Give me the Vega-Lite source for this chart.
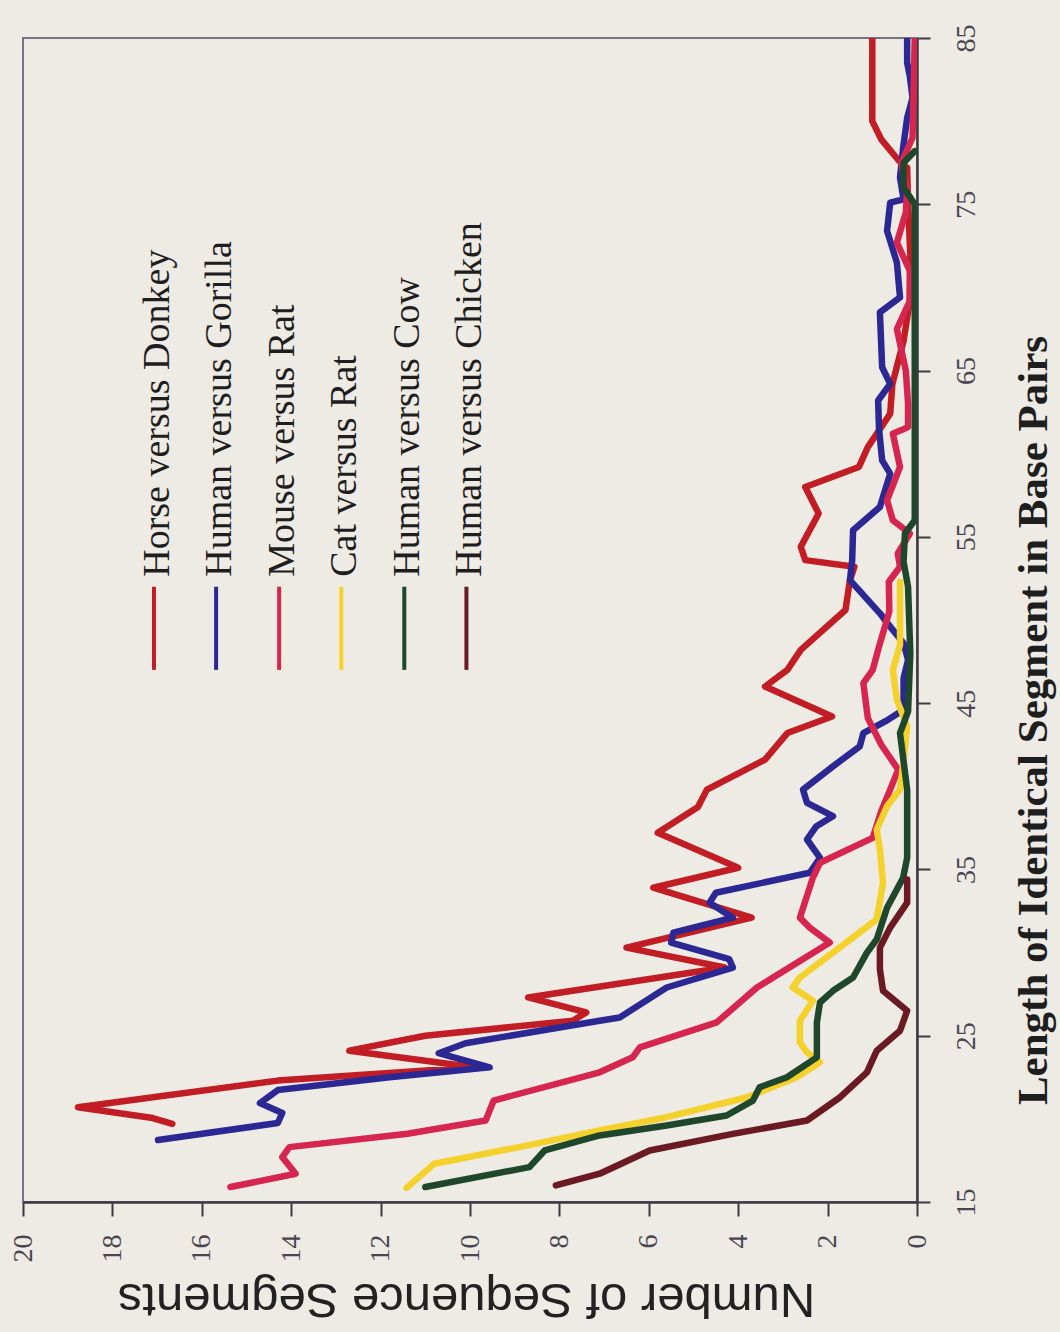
{
  "$schema": "https://vega.github.io/schema/vega-lite/v6.json",
  "width": 894,
  "height": 1164,
  "autosize": {"type": "none"},
  "padding": {"left": 23, "top": 38, "right": 143, "bottom": 130},
  "background": "#eeeae4",
  "config": {
    "view": {"stroke": "#7a7088", "strokeWidth": 2},
    "font": "Liberation Serif"
  },
  "data": {
    "values": [
      {"series": "Horse versus Donkey", "length": 19.7, "count": 16.66},
      {"series": "Horse versus Donkey", "length": 20.05, "count": 17.1},
      {"series": "Horse versus Donkey", "length": 20.7, "count": 18.77},
      {"series": "Horse versus Donkey", "length": 22.3, "count": 14.3},
      {"series": "Horse versus Donkey", "length": 23.1, "count": 9.9},
      {"series": "Horse versus Donkey", "length": 24.1, "count": 12.7},
      {"series": "Horse versus Donkey", "length": 25.0, "count": 11.0},
      {"series": "Horse versus Donkey", "length": 25.9, "count": 7.7},
      {"series": "Horse versus Donkey", "length": 26.4, "count": 7.4},
      {"series": "Horse versus Donkey", "length": 27.3, "count": 8.7},
      {"series": "Horse versus Donkey", "length": 29.1, "count": 4.3},
      {"series": "Horse versus Donkey", "length": 30.3, "count": 6.5},
      {"series": "Horse versus Donkey", "length": 32.1, "count": 3.7},
      {"series": "Horse versus Donkey", "length": 33.9, "count": 5.9},
      {"series": "Horse versus Donkey", "length": 35.1, "count": 4.0},
      {"series": "Horse versus Donkey", "length": 37.2, "count": 5.8},
      {"series": "Horse versus Donkey", "length": 38.75, "count": 4.9},
      {"series": "Horse versus Donkey", "length": 39.8, "count": 4.7},
      {"series": "Horse versus Donkey", "length": 41.6, "count": 3.4},
      {"series": "Horse versus Donkey", "length": 43.2, "count": 2.9},
      {"series": "Horse versus Donkey", "length": 44.2, "count": 1.9},
      {"series": "Horse versus Donkey", "length": 46.0, "count": 3.4},
      {"series": "Horse versus Donkey", "length": 47.0, "count": 2.9},
      {"series": "Horse versus Donkey", "length": 48.2, "count": 2.6},
      {"series": "Horse versus Donkey", "length": 50.6, "count": 1.6},
      {"series": "Horse versus Donkey", "length": 52.4, "count": 1.5},
      {"series": "Horse versus Donkey", "length": 53.2, "count": 1.4},
      {"series": "Horse versus Donkey", "length": 53.6, "count": 2.5},
      {"series": "Horse versus Donkey", "length": 54.4, "count": 2.6},
      {"series": "Horse versus Donkey", "length": 56.4, "count": 2.2},
      {"series": "Horse versus Donkey", "length": 58.0, "count": 2.5},
      {"series": "Horse versus Donkey", "length": 59.2, "count": 1.3},
      {"series": "Horse versus Donkey", "length": 60.4, "count": 1.1},
      {"series": "Horse versus Donkey", "length": 62.4, "count": 0.6},
      {"series": "Horse versus Donkey", "length": 64.2, "count": 0.55},
      {"series": "Horse versus Donkey", "length": 66.8, "count": 0.3},
      {"series": "Horse versus Donkey", "length": 69.2, "count": 0.16},
      {"series": "Horse versus Donkey", "length": 72.0, "count": 0.15},
      {"series": "Horse versus Donkey", "length": 75.0, "count": 0.2},
      {"series": "Horse versus Donkey", "length": 77.2, "count": 0.22},
      {"series": "Horse versus Donkey", "length": 77.6, "count": 0.4},
      {"series": "Horse versus Donkey", "length": 78.9, "count": 0.8},
      {"series": "Horse versus Donkey", "length": 80.0, "count": 1.0},
      {"series": "Horse versus Donkey", "length": 82.0, "count": 1.0},
      {"series": "Horse versus Donkey", "length": 85.0, "count": 1.0},

      {"series": "Human versus Gorilla", "length": 18.73, "count": 16.98},
      {"series": "Human versus Gorilla", "length": 19.75, "count": 14.3},
      {"series": "Human versus Gorilla", "length": 20.35, "count": 14.2},
      {"series": "Human versus Gorilla", "length": 20.95, "count": 14.7},
      {"series": "Human versus Gorilla", "length": 21.73, "count": 14.3},
      {"series": "Human versus Gorilla", "length": 22.5, "count": 11.8},
      {"series": "Human versus Gorilla", "length": 23.1, "count": 9.56},
      {"series": "Human versus Gorilla", "length": 23.95, "count": 10.7},
      {"series": "Human versus Gorilla", "length": 24.55, "count": 10.1},
      {"series": "Human versus Gorilla", "length": 25.9, "count": 7.1},
      {"series": "Human versus Gorilla", "length": 26.1, "count": 6.65},
      {"series": "Human versus Gorilla", "length": 27.9, "count": 5.6},
      {"series": "Human versus Gorilla", "length": 29.1, "count": 4.12},
      {"series": "Human versus Gorilla", "length": 29.6, "count": 4.2},
      {"series": "Human versus Gorilla", "length": 30.6, "count": 5.5},
      {"series": "Human versus Gorilla", "length": 31.2, "count": 5.45},
      {"series": "Human versus Gorilla", "length": 32.1, "count": 4.12},
      {"series": "Human versus Gorilla", "length": 33.0, "count": 4.64},
      {"series": "Human versus Gorilla", "length": 33.6, "count": 4.5},
      {"series": "Human versus Gorilla", "length": 34.8, "count": 2.4},
      {"series": "Human versus Gorilla", "length": 35.7, "count": 2.17},
      {"series": "Human versus Gorilla", "length": 36.8, "count": 2.46},
      {"series": "Human versus Gorilla", "length": 37.6, "count": 2.25},
      {"series": "Human versus Gorilla", "length": 38.2, "count": 1.88},
      {"series": "Human versus Gorilla", "length": 39.0, "count": 2.46},
      {"series": "Human versus Gorilla", "length": 39.8, "count": 2.55},
      {"series": "Human versus Gorilla", "length": 41.2, "count": 1.88},
      {"series": "Human versus Gorilla", "length": 42.4, "count": 1.28},
      {"series": "Human versus Gorilla", "length": 43.2, "count": 1.2},
      {"series": "Human versus Gorilla", "length": 44.0, "count": 0.65},
      {"series": "Human versus Gorilla", "length": 44.6, "count": 0.3},
      {"series": "Human versus Gorilla", "length": 46.5, "count": 0.3},
      {"series": "Human versus Gorilla", "length": 47.6, "count": 0.2},
      {"series": "Human versus Gorilla", "length": 48.6, "count": 0.3},
      {"series": "Human versus Gorilla", "length": 49.6, "count": 0.6},
      {"series": "Human versus Gorilla", "length": 50.4, "count": 0.83},
      {"series": "Human versus Gorilla", "length": 52.4, "count": 1.5},
      {"series": "Human versus Gorilla", "length": 53.6, "count": 1.45},
      {"series": "Human versus Gorilla", "length": 55.4, "count": 1.43},
      {"series": "Human versus Gorilla", "length": 56.8, "count": 0.83},
      {"series": "Human versus Gorilla", "length": 58.8, "count": 0.6},
      {"series": "Human versus Gorilla", "length": 59.6, "count": 0.78},
      {"series": "Human versus Gorilla", "length": 61.5, "count": 0.85},
      {"series": "Human versus Gorilla", "length": 63.2, "count": 0.87},
      {"series": "Human versus Gorilla", "length": 64.2, "count": 0.6},
      {"series": "Human versus Gorilla", "length": 65.2, "count": 0.78},
      {"series": "Human versus Gorilla", "length": 68.5, "count": 0.83},
      {"series": "Human versus Gorilla", "length": 69.4, "count": 0.38},
      {"series": "Human versus Gorilla", "length": 71.5, "count": 0.45},
      {"series": "Human versus Gorilla", "length": 73.4, "count": 0.67},
      {"series": "Human versus Gorilla", "length": 75.1, "count": 0.6},
      {"series": "Human versus Gorilla", "length": 75.3, "count": 0.3},
      {"series": "Human versus Gorilla", "length": 76.6, "count": 0.38},
      {"series": "Human versus Gorilla", "length": 78.4, "count": 0.31},
      {"series": "Human versus Gorilla", "length": 80.2, "count": 0.22},
      {"series": "Human versus Gorilla", "length": 81.4, "count": 0.1},
      {"series": "Human versus Gorilla", "length": 82.7, "count": 0.16},
      {"series": "Human versus Gorilla", "length": 83.5, "count": 0.22},
      {"series": "Human versus Gorilla", "length": 85.0, "count": 0.22},

      {"series": "Mouse versus Rat", "length": 15.9, "count": 15.36},
      {"series": "Mouse versus Rat", "length": 16.7, "count": 13.9},
      {"series": "Mouse versus Rat", "length": 17.7, "count": 14.2},
      {"series": "Mouse versus Rat", "length": 18.3, "count": 14.04},
      {"series": "Mouse versus Rat", "length": 19.1, "count": 11.4},
      {"series": "Mouse versus Rat", "length": 19.9, "count": 9.65},
      {"series": "Mouse versus Rat", "length": 21.1, "count": 9.47},
      {"series": "Mouse versus Rat", "length": 22.8, "count": 7.1},
      {"series": "Mouse versus Rat", "length": 23.7, "count": 6.36},
      {"series": "Mouse versus Rat", "length": 24.3, "count": 6.2},
      {"series": "Mouse versus Rat", "length": 25.8, "count": 4.48},
      {"series": "Mouse versus Rat", "length": 27.9, "count": 3.58},
      {"series": "Mouse versus Rat", "length": 30.6, "count": 1.95},
      {"series": "Mouse versus Rat", "length": 31.5, "count": 2.4},
      {"series": "Mouse versus Rat", "length": 32.1, "count": 2.62},
      {"series": "Mouse versus Rat", "length": 34.5, "count": 2.33},
      {"series": "Mouse versus Rat", "length": 35.4, "count": 2.17},
      {"series": "Mouse versus Rat", "length": 36.9, "count": 0.99},
      {"series": "Mouse versus Rat", "length": 38.5, "count": 0.8},
      {"series": "Mouse versus Rat", "length": 39.8, "count": 0.6},
      {"series": "Mouse versus Rat", "length": 41.0, "count": 0.42},
      {"series": "Mouse versus Rat", "length": 42.5, "count": 0.8},
      {"series": "Mouse versus Rat", "length": 44.1, "count": 1.1},
      {"series": "Mouse versus Rat", "length": 46.2, "count": 1.2},
      {"series": "Mouse versus Rat", "length": 47.0, "count": 0.99},
      {"series": "Mouse versus Rat", "length": 48.4, "count": 0.85},
      {"series": "Mouse versus Rat", "length": 50.5, "count": 0.62},
      {"series": "Mouse versus Rat", "length": 52.3, "count": 0.63},
      {"series": "Mouse versus Rat", "length": 53.2, "count": 0.38},
      {"series": "Mouse versus Rat", "length": 54.0, "count": 0.43},
      {"series": "Mouse versus Rat", "length": 55.2, "count": 0.16},
      {"series": "Mouse versus Rat", "length": 56.0, "count": 0.54},
      {"series": "Mouse versus Rat", "length": 57.2, "count": 0.67},
      {"series": "Mouse versus Rat", "length": 59.2, "count": 0.38},
      {"series": "Mouse versus Rat", "length": 61.2, "count": 0.54},
      {"series": "Mouse versus Rat", "length": 61.6, "count": 0.2},
      {"series": "Mouse versus Rat", "length": 63.0, "count": 0.2},
      {"series": "Mouse versus Rat", "length": 65.0, "count": 0.25},
      {"series": "Mouse versus Rat", "length": 67.5, "count": 0.45},
      {"series": "Mouse versus Rat", "length": 69.2, "count": 0.16},
      {"series": "Mouse versus Rat", "length": 71.0, "count": 0.16},
      {"series": "Mouse versus Rat", "length": 72.7, "count": 0.45},
      {"series": "Mouse versus Rat", "length": 74.5, "count": 0.25},
      {"series": "Mouse versus Rat", "length": 75.9, "count": 0.22},
      {"series": "Mouse versus Rat", "length": 77.5, "count": 0.35},
      {"series": "Mouse versus Rat", "length": 79.0, "count": 0.1},
      {"series": "Mouse versus Rat", "length": 85.0, "count": 0.05},

      {"series": "Cat versus Rat", "length": 15.85, "count": 11.42},
      {"series": "Cat versus Rat", "length": 17.3, "count": 10.8},
      {"series": "Cat versus Rat", "length": 18.3, "count": 8.9},
      {"series": "Cat versus Rat", "length": 19.3, "count": 7.1},
      {"series": "Cat versus Rat", "length": 20.1, "count": 5.6},
      {"series": "Cat versus Rat", "length": 21.3, "count": 3.8},
      {"series": "Cat versus Rat", "length": 22.5, "count": 2.69},
      {"series": "Cat versus Rat", "length": 23.4, "count": 2.17},
      {"series": "Cat versus Rat", "length": 24.0, "count": 2.46},
      {"series": "Cat versus Rat", "length": 24.6, "count": 2.62},
      {"series": "Cat versus Rat", "length": 25.9, "count": 2.62},
      {"series": "Cat versus Rat", "length": 27.1, "count": 2.33},
      {"series": "Cat versus Rat", "length": 27.9, "count": 2.78},
      {"series": "Cat versus Rat", "length": 28.5, "count": 2.62},
      {"series": "Cat versus Rat", "length": 30.0, "count": 1.88},
      {"series": "Cat versus Rat", "length": 32.0, "count": 0.9},
      {"series": "Cat versus Rat", "length": 34.2, "count": 0.76},
      {"series": "Cat versus Rat", "length": 36.2, "count": 0.83},
      {"series": "Cat versus Rat", "length": 37.4, "count": 0.9},
      {"series": "Cat versus Rat", "length": 38.8, "count": 0.67},
      {"series": "Cat versus Rat", "length": 39.8, "count": 0.38},
      {"series": "Cat versus Rat", "length": 41.5, "count": 0.3},
      {"series": "Cat versus Rat", "length": 43.6, "count": 0.22},
      {"series": "Cat versus Rat", "length": 45.2, "count": 0.45},
      {"series": "Cat versus Rat", "length": 47.0, "count": 0.54},
      {"series": "Cat versus Rat", "length": 48.5, "count": 0.38},
      {"series": "Cat versus Rat", "length": 51.6, "count": 0.38},
      {"series": "Cat versus Rat", "length": 52.3, "count": 0.38},

      {"series": "Human versus Cow", "length": 15.9, "count": 11.0},
      {"series": "Human versus Cow", "length": 17.1, "count": 8.67},
      {"series": "Human versus Cow", "length": 18.1, "count": 8.33},
      {"series": "Human versus Cow", "length": 19.0, "count": 7.1},
      {"series": "Human versus Cow", "length": 19.6, "count": 5.6},
      {"series": "Human versus Cow", "length": 20.2, "count": 4.26},
      {"series": "Human versus Cow", "length": 21.1, "count": 3.67},
      {"series": "Human versus Cow", "length": 21.9, "count": 3.52},
      {"series": "Human versus Cow", "length": 22.5, "count": 2.91},
      {"series": "Human versus Cow", "length": 23.7, "count": 2.24},
      {"series": "Human versus Cow", "length": 25.8, "count": 2.24},
      {"series": "Human versus Cow", "length": 27.0, "count": 2.17},
      {"series": "Human versus Cow", "length": 27.7, "count": 1.88},
      {"series": "Human versus Cow", "length": 28.5, "count": 1.43},
      {"series": "Human versus Cow", "length": 30.0, "count": 1.12},
      {"series": "Human versus Cow", "length": 30.8, "count": 0.9},
      {"series": "Human versus Cow", "length": 32.7, "count": 0.67},
      {"series": "Human versus Cow", "length": 34.5, "count": 0.31},
      {"series": "Human versus Cow", "length": 35.7, "count": 0.22},
      {"series": "Human versus Cow", "length": 39.8, "count": 0.22},
      {"series": "Human versus Cow", "length": 43.2, "count": 0.38},
      {"series": "Human versus Cow", "length": 44.5, "count": 0.2},
      {"series": "Human versus Cow", "length": 48.0, "count": 0.15},
      {"series": "Human versus Cow", "length": 52.0, "count": 0.2},
      {"series": "Human versus Cow", "length": 53.5, "count": 0.3},
      {"series": "Human versus Cow", "length": 55.2, "count": 0.27},
      {"series": "Human versus Cow", "length": 56.0, "count": 0.05},
      {"series": "Human versus Cow", "length": 75.0, "count": 0.05},
      {"series": "Human versus Cow", "length": 76.0, "count": 0.3},
      {"series": "Human versus Cow", "length": 77.5, "count": 0.3},
      {"series": "Human versus Cow", "length": 78.2, "count": 0.05},

      {"series": "Human versus Chicken", "length": 16.0, "count": 8.08},
      {"series": "Human versus Chicken", "length": 16.7, "count": 7.1},
      {"series": "Human versus Chicken", "length": 18.1, "count": 5.98},
      {"series": "Human versus Chicken", "length": 19.1, "count": 4.12},
      {"series": "Human versus Chicken", "length": 19.9, "count": 2.46},
      {"series": "Human versus Chicken", "length": 21.3, "count": 1.72},
      {"series": "Human versus Chicken", "length": 22.8, "count": 1.12},
      {"series": "Human versus Chicken", "length": 24.1, "count": 0.9},
      {"series": "Human versus Chicken", "length": 25.3, "count": 0.38},
      {"series": "Human versus Chicken", "length": 26.5, "count": 0.22},
      {"series": "Human versus Chicken", "length": 27.7, "count": 0.76},
      {"series": "Human versus Chicken", "length": 29.0, "count": 0.83},
      {"series": "Human versus Chicken", "length": 30.3, "count": 0.83},
      {"series": "Human versus Chicken", "length": 31.5, "count": 0.6},
      {"series": "Human versus Chicken", "length": 33.0, "count": 0.22},
      {"series": "Human versus Chicken", "length": 34.4, "count": 0.22}
    ]
  },
  "layer": [
    {
      "mark": {"type": "line", "strokeWidth": 6.5, "strokeJoin": "round", "strokeCap": "round", "clip": true},
      "encoding": {
        "x": {
          "field": "count",
          "type": "quantitative",
          "scale": {"domain": [0, 20], "reverse": true, "nice": false, "zero": false},
          "axis": {
            "orient": "bottom",
            "values": [0, 2, 4, 6, 8, 10, 12, 14, 16, 18, 20],
            "grid": false,
            "labelAngle": 270,
            "labelFont": "Liberation Serif",
            "labelFontSize": 28,
            "labelColor": "#4a4650",
            "labelPadding": 18,
            "labelFlush": false,
            "labelOverlap": false,
            "tickSize": 14,
            "tickWidth": 2,
            "tickColor": "#3d3a42",
            "domainColor": "#3d3a42",
            "domainWidth": 2.5,
            "title": "Number of Sequence Segments",
            "titleFont": "Liberation Sans",
            "titleFontSize": 49,
            "titleFontWeight": "normal",
            "titleColor": "#222222",
            "titleAngle": 180,
            "titleAlign": "center",
            "titleBaseline": "middle",
            "titleX": 443,
            "titleY": 96
          }
        },
        "y": {
          "field": "length",
          "type": "quantitative",
          "scale": {"domain": [15, 85], "nice": false, "zero": false},
          "axis": {
            "orient": "right",
            "values": [15, 25, 35, 45, 55, 65, 75, 85],
            "grid": false,
            "labelAngle": 270,
            "labelAlign": "center",
            "labelBaseline": "top",
            "labelFont": "Liberation Serif",
            "labelFontSize": 28,
            "labelColor": "#4a4650",
            "labelPadding": 22,
            "labelFlush": false,
            "labelOverlap": false,
            "tickSize": 13,
            "tickWidth": 2,
            "tickColor": "#3d3a42",
            "domainColor": "#3d3a42",
            "domainWidth": 2.5,
            "title": "Length of Identical Segment in Base Pairs",
            "titleFont": "Liberation Serif",
            "titleFontSize": 43,
            "titleFontWeight": "bold",
            "titleColor": "#1e1e1e",
            "titleAngle": 270,
            "titleAlign": "center",
            "titleBaseline": "middle",
            "titleX": 116,
            "titleY": 682
          }
        },
        "color": {
          "field": "series",
          "type": "nominal",
          "scale": {
            "domain": ["Horse versus Donkey", "Human versus Gorilla", "Mouse versus Rat", "Cat versus Rat", "Human versus Cow", "Human versus Chicken"],
            "range": ["#c21d25", "#2b2894", "#d6264f", "#f4d22b", "#1f472c", "#6a1a20"]
          },
          "legend": null
        },
        "order": {"field": "length", "type": "quantitative"}
      }
    },
    {"data": {"values": [{}]}, "mark": {"type": "rule", "strokeWidth": 4}, "encoding": {"x": {"datum": 17.07, "type": "quantitative"}, "y": {"datum": 47, "type": "quantitative"}, "y2": {"datum": 52}, "color": {"datum": "Horse versus Donkey", "type": "nominal"}}},
    {"data": {"values": [{}]}, "mark": {"type": "rule", "strokeWidth": 4}, "encoding": {"x": {"datum": 15.68, "type": "quantitative"}, "y": {"datum": 47, "type": "quantitative"}, "y2": {"datum": 52}, "color": {"datum": "Human versus Gorilla", "type": "nominal"}}},
    {"data": {"values": [{}]}, "mark": {"type": "rule", "strokeWidth": 4}, "encoding": {"x": {"datum": 14.27, "type": "quantitative"}, "y": {"datum": 47, "type": "quantitative"}, "y2": {"datum": 52}, "color": {"datum": "Mouse versus Rat", "type": "nominal"}}},
    {"data": {"values": [{}]}, "mark": {"type": "rule", "strokeWidth": 4}, "encoding": {"x": {"datum": 12.88, "type": "quantitative"}, "y": {"datum": 47, "type": "quantitative"}, "y2": {"datum": 52}, "color": {"datum": "Cat versus Rat", "type": "nominal"}}},
    {"data": {"values": [{}]}, "mark": {"type": "rule", "strokeWidth": 4}, "encoding": {"x": {"datum": 11.47, "type": "quantitative"}, "y": {"datum": 47, "type": "quantitative"}, "y2": {"datum": 52}, "color": {"datum": "Human versus Cow", "type": "nominal"}}},
    {"data": {"values": [{}]}, "mark": {"type": "rule", "strokeWidth": 4}, "encoding": {"x": {"datum": 10.08, "type": "quantitative"}, "y": {"datum": 47, "type": "quantitative"}, "y2": {"datum": 52}, "color": {"datum": "Human versus Chicken", "type": "nominal"}}},
    {"data": {"values": [{}]}, "mark": {"type": "text", "text": "Horse versus Donkey", "angle": 270, "align": "left", "baseline": "middle", "dy": 4, "font": "Liberation Serif", "fontSize": 38, "color": "#1e1e1e"}, "encoding": {"x": {"datum": 17.07, "type": "quantitative"}, "y": {"datum": 52.6, "type": "quantitative"}}},
    {"data": {"values": [{}]}, "mark": {"type": "text", "text": "Human versus Gorilla", "angle": 270, "align": "left", "baseline": "middle", "dy": 4, "font": "Liberation Serif", "fontSize": 38, "color": "#1e1e1e"}, "encoding": {"x": {"datum": 15.68, "type": "quantitative"}, "y": {"datum": 52.6, "type": "quantitative"}}},
    {"data": {"values": [{}]}, "mark": {"type": "text", "text": "Mouse versus Rat", "angle": 270, "align": "left", "baseline": "middle", "dy": 4, "font": "Liberation Serif", "fontSize": 38, "color": "#1e1e1e"}, "encoding": {"x": {"datum": 14.27, "type": "quantitative"}, "y": {"datum": 52.6, "type": "quantitative"}}},
    {"data": {"values": [{}]}, "mark": {"type": "text", "text": "Cat versus Rat", "angle": 270, "align": "left", "baseline": "middle", "dy": 4, "font": "Liberation Serif", "fontSize": 38, "color": "#1e1e1e"}, "encoding": {"x": {"datum": 12.88, "type": "quantitative"}, "y": {"datum": 52.6, "type": "quantitative"}}},
    {"data": {"values": [{}]}, "mark": {"type": "text", "text": "Human versus Cow", "angle": 270, "align": "left", "baseline": "middle", "dy": 4, "font": "Liberation Serif", "fontSize": 38, "color": "#1e1e1e"}, "encoding": {"x": {"datum": 11.47, "type": "quantitative"}, "y": {"datum": 52.6, "type": "quantitative"}}},
    {"data": {"values": [{}]}, "mark": {"type": "text", "text": "Human versus Chicken", "angle": 270, "align": "left", "baseline": "middle", "dy": 4, "font": "Liberation Serif", "fontSize": 38, "color": "#1e1e1e"}, "encoding": {"x": {"datum": 10.08, "type": "quantitative"}, "y": {"datum": 52.6, "type": "quantitative"}}}
  ]
}
